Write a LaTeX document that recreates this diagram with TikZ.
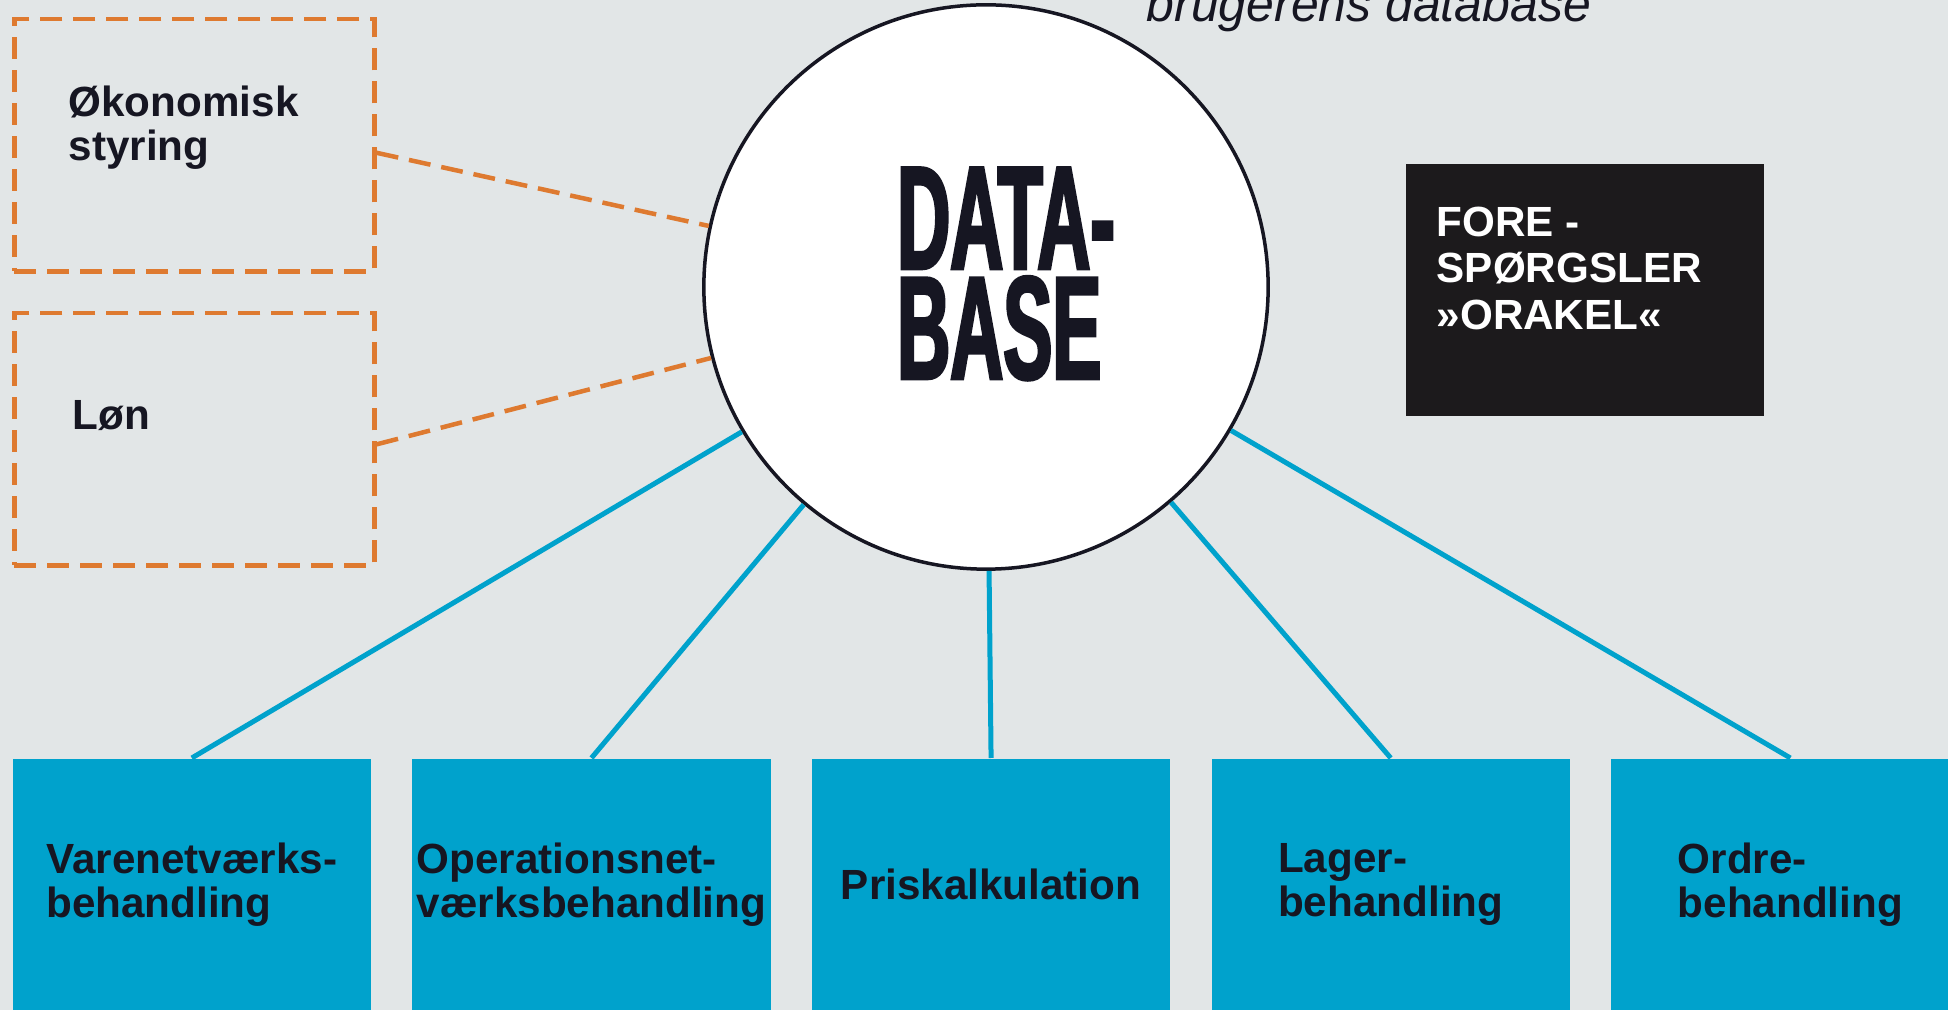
\documentclass[tikz,border=0pt]{standalone}
\usepackage{fontspec}
\setmainfont{Liberation Sans}
\newfontfamily\dbfont{Liberation Sans}[UprightFont={* Bold},FakeStretch=0.5,FakeBold=2]
\usepackage{xcolor}
\usetikzlibrary{calc}
\usetikzlibrary{positioning}

\definecolor{papergrey}{RGB}{226,230,231}
\definecolor{skyblue}{RGB}{0,162,204}
\definecolor{rust}{RGB}{222,122,48}
\definecolor{inkblack}{RGB}{22,22,34}
\definecolor{boxblack}{RGB}{28,26,28}

\begin{document}
\begin{tikzpicture}[x=0.01cm,y=-0.01cm,
	dashbox/.style={draw=rust,line width=0.045cm,dash pattern=on 0.22cm off 0.11cm,minimum width=3.6cm,minimum height=2.52cm,inner sep=0pt},
	dashlink/.style={draw=rust,line width=0.045cm,dash pattern=on 0.22cm off 0.11cm},
	funcbox/.style={fill=skyblue,minimum width=3.58cm,minimum height=2.52cm,inner sep=0pt,align=left,text=inkblack,font=\fontsize{12}{12.6}\selectfont\bfseries},
	bluelink/.style={draw=skyblue,line width=0.05cm},
	boxtext/.style={inner sep=0pt,align=left,text=inkblack,font=\fontsize{12}{12.6}\selectfont\bfseries},
	dbcircle/.style={circle,draw=inkblack,line width=0.035cm,fill=white,minimum size=5.64cm,inner sep=0pt}]
	\clip (0,0) rectangle (1948,1010);
	\fill[papergrey] (0,0) rectangle (1948,1010);
	\node[dbcircle] (db) at (986,287) {};
	\node[inner sep=0pt,align=left,text=inkblack,font=\fontsize{41.8}{31.3}\selectfont\dbfont] (dbtxt) at ($(db)+(20,-13)$) {DATA-\\BASE};
	\node[anchor=base west,inner sep=0pt,text=inkblack,font=\fontsize{14.2}{16}\selectfont\itshape] (note) at (1146,22) {brugerens database};
	\node[dashbox,anchor=north west] (okon) at (12,17) {};
	\node[dashbox,anchor=north west] (loen) at (12,311) {};
	\node[boxtext,anchor=north west] (okontxt) at ($(okon.north west)+(56,68)$) {Økonomisk\\styring};
	\node[boxtext,anchor=base west] (loentxt) at ($(loen.north west)+(60,119)$) {Løn};
	\draw[dashlink] ([yshift=-0.075cm]okon.east) -- (db);
	\draw[dashlink] ([yshift=-0.05cm]loen.east) -- (db);
	\node[fill=boxblack,minimum width=3.58cm,minimum height=2.52cm,anchor=north west] (orakel) at (1405,163) {};
	\node[anchor=north west,inner sep=0pt,align=left,text=white,font=\fontsize{12}{13.2}\selectfont\bfseries] (orakeltxt) at ($(orakel.north west)+(31,43)$) {FORE -\\SPØRGSLER\\»ORAKEL«};
	\node[funcbox,anchor=north west] (vare) at (12,758) {Varenetværks-\\behandling};
	\node[funcbox,right=0.4cm of vare] (oper) {Operationsnet-\\værksbehandling};
	\node[funcbox,right=0.4cm of oper] (pris) {Priskalkulation};
	\node[funcbox,right=0.4cm of pris] (lager) {Lager-\\behandling};
	\node[funcbox,right=0.4cm of lager] (ordre) {Ordre-\\behandling};
	\draw[bluelink] (vare.north) -- (db);
	\draw[bluelink] (oper.north) -- (db);
	\draw[bluelink] (pris.north) -- (db);
	\draw[bluelink] (lager.north) -- (db);
	\draw[bluelink] (ordre.north) -- (db);
\end{tikzpicture}
\end{document}
